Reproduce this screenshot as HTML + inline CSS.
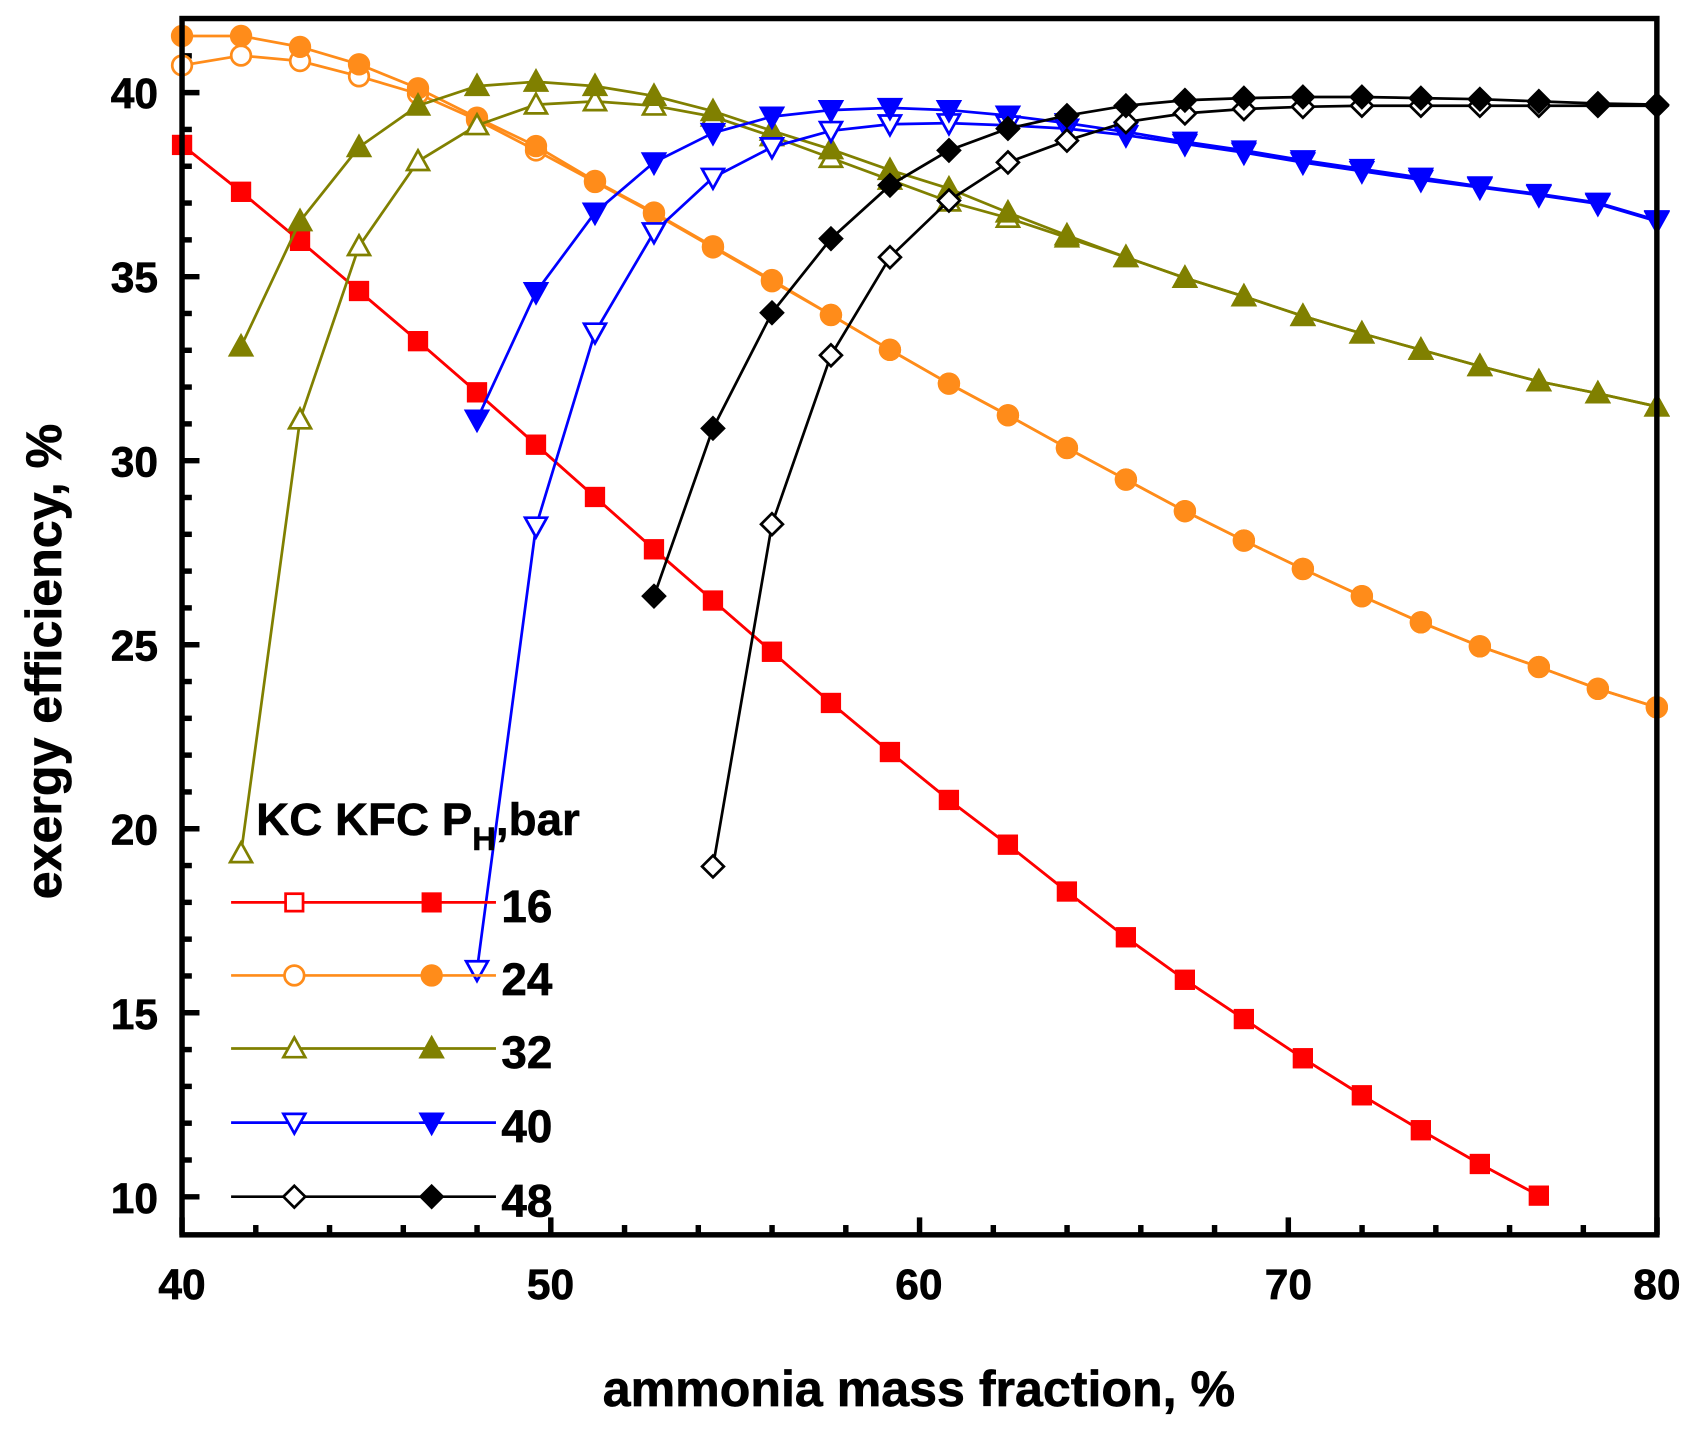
<!DOCTYPE html>
<html><head><meta charset="utf-8"><style>
html,body{margin:0;padding:0;background:#fff}
svg{display:block}
text{font-family:"Liberation Sans",Arial,sans-serif;font-weight:bold;fill:#000}
</style></head><body>
<svg id="s" width="1707" height="1443" viewBox="0 0 1566 1324" preserveAspectRatio="none" xmlns="http://www.w3.org/2000/svg">
<g id="ticks"></g>
<g id="data"></g>
<rect x="167" y="17" width="1353" height="1116" fill="none" stroke="#000" stroke-width="5"/>
<g font-size="39" text-anchor="end" stroke="#000" stroke-width="0.6">
<text x="145" y="99">40</text>
<text x="145" y="268">35</text>
<text x="145" y="437">30</text>
<text x="145" y="606">25</text>
<text x="145" y="775">20</text>
<text x="145" y="944">15</text>
<text x="145" y="1113">10</text>
</g>
<g font-size="39" text-anchor="middle" stroke="#000" stroke-width="0.6">
<text x="167" y="1192">40</text>
<text x="505" y="1192">50</text>
<text x="843" y="1192">60</text>
<text x="1182" y="1192">70</text>
<text x="1520" y="1192">80</text>
</g>
<text x="843" y="1290" font-size="46" text-anchor="middle" stroke="#000" stroke-width="0.6">ammonia mass fraction, %</text>
<text transform="translate(56,607) rotate(-90)" font-size="46" text-anchor="middle" stroke="#000" stroke-width="0.6">exergy efficiency, %</text>
<text x="235" y="766" font-size="42" stroke="#000" stroke-width="0.5">KC KFC P<tspan font-size="30" dy="14">H</tspan><tspan dy="-14">,bar</tspan></text>
<g font-size="42" stroke="#000" stroke-width="0.6">
<text x="460" y="846">16</text>
<text x="460" y="913">24</text>
<text x="460" y="980">32</text>
<text x="460" y="1048">40</text>
<text x="460" y="1116">48</text>
</g>
</svg>
<script>
var NS="http://www.w3.org/2000/svg";
function X(k){return 167+k*54.12;}
function el(t,a,p){var e=document.createElementNS(NS,t);for(var k in a)e.setAttribute(k,a[k]);p.appendChild(e);return e;}
var T=document.getElementById('ticks'),D=document.getElementById('data');
for(var v=9;v<=41;v++){var y=85+(40-v)*33.77;if(y<20||y>1130)continue;var L=(v%5==0)?16:9;el('line',{x1:167,y1:y,x2:167+L,y2:y,stroke:'#000','stroke-width':5},T);}
for(var v=40;v<=80;v+=2){var x=167+(v-40)*33.83;var L=(v%10==0)?16:9;el('line',{x1:x,y1:1133,x2:x,y2:1133-L,stroke:'#000','stroke-width':5},T);}
function marker(type,x,y,col,fill,p){var r=9;var f=fill?col:'#fff';var a={fill:f,stroke:col,'stroke-width':2.5};
 if(type=='sq'){a.x=x-r+1;a.y=y-r+1;a.width=2*r-2;a.height=2*r-2;el('rect',a,p);}
 else if(type=='ci'){a.cx=x;a.cy=y;a.r=r;el('circle',a,p);}
 else if(type=='tu'){a.points=(x)+','+(y-r-1)+' '+(x+r+1)+','+(y+r-1)+' '+(x-r-1)+','+(y+r-1);el('polygon',a,p);}
 else if(type=='td'){a.points=(x)+','+(y+r+1)+' '+(x+r+1)+','+(y-r+1)+' '+(x-r-1)+','+(y-r+1);el('polygon',a,p);}
 else if(type=='di'){a.points=x+','+(y-r-1)+' '+(x+r+1)+','+y+' '+x+','+(y+r+1)+' '+(x-r-1)+','+y;el('polygon',a,p);}
}
function series(k0,ys,col,type,fill){var pts=[];for(var i=0;i<ys.length;i++)pts.push(X(k0+i)+','+ys[i]);
 el('polyline',{points:pts.join(' '),fill:'none',stroke:col,'stroke-width':2.5},D);
 for(var i=0;i<ys.length;i++)marker(type,X(k0+i),ys[i],col,fill,D);}
var red=[133,176,221,267,313,360,408,456,504,551,598,645,690,734,775,818,860,899,935,971,1005,1037,1068,1097];
var orF=[33,33,43,59,81,108,134,166,195,226,257,289,321,352,381,411,440,469,496,522,547,571,593,612,632,649];
var orO=[60,51,56,70,86,110,138,167,196,227,258,289,321,352,381,411,440,469,496,522,547,571,593,612,632,649];
var olF=[318,203,135,97,79,75,79,88,102,120,137,156,173,195,216,236,255,272,290,306,321,336,350,361,373];
var olO=[783,385,226,148,115,96,93,97,107,125,145,165,185,200,218,236,255,272,290,306,321,336,350,361,373];
var blF=[385,268,195,149,122,107,101,99,101,106,113,121,130,138,147,155,163,171,178,186,202];
var blO=[890,483,305,213,163,135,120,114,113,115,118,124,132,140,149,157,165,172,179,187,203];
var bkF=[547,393,287,219,170,138,118,106,97,92,90,89,89,90,91,93,95,96];
var bkO=[795,481,326,236,184,149,129,112,104,100,98,97,97,97,97,97,97];
series(0,red,'#ff0000','sq',false);series(0,red,'#ff0000','sq',true);
series(0,orO,'#ff8c1a','ci',false);series(0,orF,'#ff8c1a','ci',true);
series(1,olO,'#808000','tu',false);series(1,olF,'#808000','tu',true);
series(5,blO,'#0000ff','td',false);series(5,blF,'#0000ff','td',true);
series(9,bkO,'#000000','di',false);series(8,bkF,'#000000','di',true);
var leg=[[828,'#ff0000','sq'],[895,'#ff8c1a','ci'],[962,'#808000','tu'],[1030,'#0000ff','td'],[1098,'#000000','di']];
leg.forEach(function(l){el('line',{x1:212,y1:l[0],x2:455,y2:l[0],stroke:l[1],'stroke-width':2.5},D);marker(l[2],270,l[0],l[1],false,D);marker(l[2],396,l[0],l[1],true,D);});
</script>
</body></html>
